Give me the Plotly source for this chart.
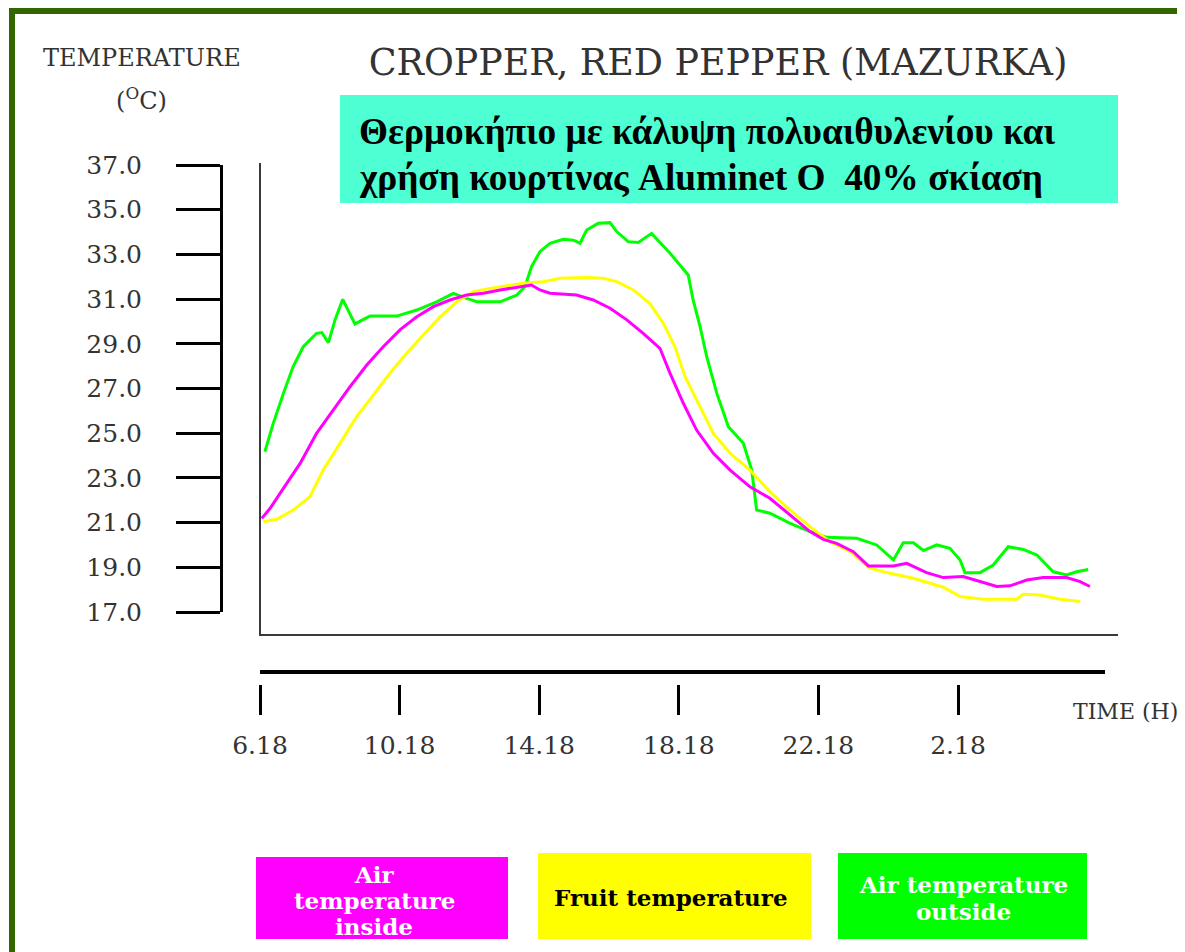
import plotly.graph_objects as go

# ---------------- data (hours after 6.18, temperature in °C) ----------------
hours_outside = [0.14, 0.38, 0.67, 0.95, 1.24, 1.62, 1.77, 1.96, 2.15, 2.37, 2.72, 3.15,
                 3.92, 4.49, 5.06, 5.54, 5.92, 6.21, 6.88, 7.36, 7.59, 7.78, 8.02, 8.31,
                 8.69, 8.98, 9.17, 9.36, 9.69, 10.03, 10.22, 10.55, 10.84, 11.22, 11.75,
                 12.27, 12.41, 12.61, 12.80, 13.09, 13.42, 13.85, 14.09, 14.23, 14.61,
                 15.19, 15.76, 16.24, 17.10, 17.67, 18.15, 18.43, 18.72, 19.01, 19.39,
                 19.77, 20.06, 20.20, 20.63, 21.01, 21.44, 21.87, 22.26, 22.73, 23.11,
                 23.40, 23.73]
temp_outside = [24.17, 25.44, 26.78, 27.98, 28.87, 29.47, 29.50, 29.05, 30.07, 30.99, 29.89, 30.24,
                30.24, 30.51, 30.88, 31.26, 31.03, 30.88, 30.88, 31.18, 31.55, 32.45, 33.12, 33.50,
                33.68, 33.64, 33.50, 34.09, 34.39, 34.42, 34.02, 33.57, 33.53, 33.94, 33.05,
                32.08, 30.96, 29.77, 28.42, 26.78, 25.29, 24.55, 23.35, 21.56, 21.42,
                20.97, 20.60, 20.34, 20.30, 20.00, 19.33, 20.10, 20.10, 19.75, 20.00,
                19.85, 19.33, 18.76, 18.76, 19.10, 19.92, 19.80, 19.55, 18.80, 18.66,
                18.80, 18.90]

hours_inside = [0.05, 0.29, 0.67, 1.15, 1.62, 2.10, 2.58, 3.06, 3.53, 4.01, 4.49, 4.97,
                5.44, 5.92, 6.40, 6.88, 7.36, 7.78, 8.02, 8.31, 9.07, 9.55, 10.03, 10.51,
                10.98, 11.46, 11.75, 12.13, 12.51, 12.99, 13.47, 14.04, 14.61, 15.19,
                15.76, 16.14, 16.52, 17.00, 17.43, 18.15, 18.53, 19.10, 19.58, 20.15,
                20.63, 21.11, 21.49, 21.97, 22.44, 23.11, 23.50, 23.78]
temp_inside = [21.19, 21.64, 22.53, 23.65, 24.99, 26.04, 27.08, 28.05, 28.87, 29.62, 30.21, 30.66,
               30.96, 31.18, 31.26, 31.41, 31.53, 31.63, 31.41, 31.26, 31.18, 30.96, 30.59, 30.07,
               29.47, 28.80, 27.68, 26.34, 25.14, 24.10, 23.35, 22.60, 22.09, 21.34,
               20.60, 20.25, 20.07, 19.70, 19.06, 19.06, 19.18, 18.76, 18.54, 18.59,
               18.36, 18.14, 18.17, 18.43, 18.54, 18.54, 18.36, 18.14]

hours_fruit = [0.09, 0.48, 0.95, 1.43, 1.81, 2.29, 2.77, 3.25, 3.72, 4.20, 4.68, 5.16,
               5.64, 6.11, 6.59, 7.16, 7.64, 8.12, 8.60, 9.36, 9.84, 10.22, 10.70, 11.17,
               11.56, 11.89, 12.18, 12.51, 12.99, 13.47, 14.04, 14.61, 15.19, 15.76,
               16.33, 16.91, 17.48, 18.05, 18.72, 19.58, 20.06, 20.72, 21.68, 21.87,
               22.35, 22.92, 23.50]
temp_fruit = [21.04, 21.15, 21.56, 22.16, 23.35, 24.55, 25.74, 26.71, 27.68, 28.58, 29.39, 30.21,
              30.88, 31.33, 31.48, 31.63, 31.73, 31.78, 31.93, 31.97, 31.93, 31.78, 31.41, 30.80,
              29.91, 28.87, 27.53, 26.49, 24.99, 24.10, 23.35, 22.38, 21.56, 20.82,
              20.15, 19.70, 18.96, 18.73, 18.51, 18.11, 17.69, 17.57, 17.57, 17.79,
              17.76, 17.57, 17.47]

time_tick_hours = [0, 4, 8, 12, 16, 20]
time_tick_labels = ["6.18", "10.18", "14.18", "18.18", "22.18", "2.18"]
temp_ticks = [17, 19, 21, 23, 25, 27, 29, 31, 33, 35, 37]

title_text = "CROPPER, RED PEPPER (MAZURKA)"
subtitle_lines = ["Θερμοκήπιο με κάλυψη πολυαιθυλενίου και",
                  "χρήση κουρτίνας Aluminet O  40% σκίαση"]
legend_inside = ["Air", "temperature", "inside"]
legend_fruit = ["Fruit temperature"]
legend_outside = ["Air temperature", "outside"]

# ---------------- layout helpers (page body has an 8px margin) ----------------
OFF = 8
W, H = 1185 - OFF, 952 - OFF


def px(x):
    return (x - OFF) / W


def py(y):
    return 1 - (y - OFF) / H


SERIF = "DejaVu Serif"
TXT = "#333333"

x_left, x_right = 260, 1118
px_per_hour = 34.9
x_range = [0, (x_right - x_left) / px_per_hour]

fig = go.Figure()
fig.add_trace(go.Scatter(x=hours_outside, y=temp_outside, mode="lines",
                         line=dict(color="#00ff00", width=3), name="Air temperature outside"))
fig.add_trace(go.Scatter(x=hours_fruit, y=temp_fruit, mode="lines",
                         line=dict(color="#ffff00", width=3), name="Fruit temperature"))
fig.add_trace(go.Scatter(x=hours_inside, y=temp_inside, mode="lines",
                         line=dict(color="#ff00ff", width=3), name="Air temperature inside"))

noax = dict(showgrid=False, zeroline=False, automargin=False)

fig.update_layout(
    width=W, height=H, autosize=False,
    margin=dict(l=0, r=0, t=0, b=0, pad=0, autoexpand=False),
    paper_bgcolor="white", plot_bgcolor="rgba(0,0,0,0)",
    showlegend=False,
    title=dict(text=title_text, x=px(718), y=py(62), xanchor="center", yanchor="middle",
               font=dict(family=SERIF, size=36.4, color=TXT)),
    xaxis=dict(domain=[px(x_left), px(x_right)], range=x_range, anchor="free",
               position=py(684), showline=False, ticks="outside", ticklen=30,
               tickwidth=3, tickcolor="black", tickvals=time_tick_hours,
               ticktext=time_tick_labels, tickfont=dict(family=SERIF, size=25, color=TXT),
               ticklabelstandoff=9, **noax),
    yaxis=dict(domain=[py(612), py(165)], range=[17, 37], anchor="free", position=px(221),
               side="left", showline=True, linecolor="black", linewidth=3,
               ticks="outside", ticklen=44, tickwidth=3, tickcolor="black",
               tickvals=temp_ticks, ticktext=[f"{v:.1f}" for v in temp_ticks],
               tickfont=dict(family=SERIF, size=25, color=TXT), ticklabelstandoff=29,
               **noax),
)


def hline(x0, x1, y, color, width):
    return dict(type="line", xref="paper", yref="paper", x0=px(x0), x1=px(x1),
                y0=py(y), y1=py(y), line=dict(color=color, width=width))


def vline(x, y0, y1, color, width):
    return dict(type="line", xref="paper", yref="paper", x0=px(x), x1=px(x),
                y0=py(y0), y1=py(y1), line=dict(color=color, width=width))


def box(x0, x1, y0, y1, color):
    return dict(type="rect", xref="paper", yref="paper", x0=px(x0), x1=px(x1),
                y0=py(y1), y1=py(y0), line=dict(width=0), fillcolor=color, layer="below")


shapes = [
    # outer dark-green frame
    dict(type="rect", xref="paper", yref="paper", x0=px(12), x1=1.05, y0=-0.05, y1=py(11),
         line=dict(color="#336600", width=6), fillcolor="rgba(0,0,0,0)", layer="below"),
    # teal heading box
    box(340, 1118, 95, 203, "#4dffd2"),
    # plot frame (L shape) and separate time-axis rule
    vline(x_left, 163, 636, "#3a3a3a", 2),
    hline(x_left - 1, x_right, 635, "#3a3a3a", 2),
    hline(x_left, 1105, 672, "black", 4),
    # legend boxes
    box(256, 508, 857, 939, "#ff00ff"),
    box(538, 811, 853, 939, "#ffff00"),
    box(838, 1087, 853, 939, "#00ff00"),
]
fig.update_layout(shapes=shapes)

annotations = [
    dict(text="<b>" + subtitle_lines[0] + "</b>", x=px(357), y=py(132), xanchor="left",
         yanchor="middle", font=dict(family="Liberation Serif", size=37.3, color="black")),
    dict(text="<b>" + subtitle_lines[1] + "</b>", x=px(357), y=py(177), xanchor="left",
         yanchor="middle", font=dict(family="Liberation Serif", size=37.3, color="black")),
    dict(text="TEMPERATURE", x=px(142), y=py(58), xanchor="center", yanchor="middle",
         font=dict(family=SERIF, size=24, color=TXT)),
    dict(text="(<sup>O</sup>C)", x=px(141), y=py(99), xanchor="center", yanchor="middle",
         font=dict(family=SERIF, size=24, color=TXT)),
    dict(text="TIME (H)", x=px(1071), y=py(711), xanchor="left", yanchor="middle",
         font=dict(family=SERIF, size=22, color=TXT)),
]
for i, t in enumerate(legend_inside):
    annotations.append(dict(text="<b>" + t + "</b>", x=px(374), y=py(874 + 26 * i),
                            xanchor="center", yanchor="middle",
                            font=dict(family=SERIF, size=23, color="white")))
for i, t in enumerate(legend_fruit):
    annotations.append(dict(text="<b>" + t + "</b>", x=px(671), y=py(897),
                            xanchor="center", yanchor="middle",
                            font=dict(family=SERIF, size=23, color="black")))
for i, t in enumerate(legend_outside):
    annotations.append(dict(text="<b>" + t + "</b>", x=px(963), y=py(884 + 27 * i),
                            xanchor="center", yanchor="middle",
                            font=dict(family=SERIF, size=23, color="white")))
for a in annotations:
    a.update(xref="paper", yref="paper", showarrow=False)
fig.update_layout(annotations=annotations)

fig.write_html("out.html")
